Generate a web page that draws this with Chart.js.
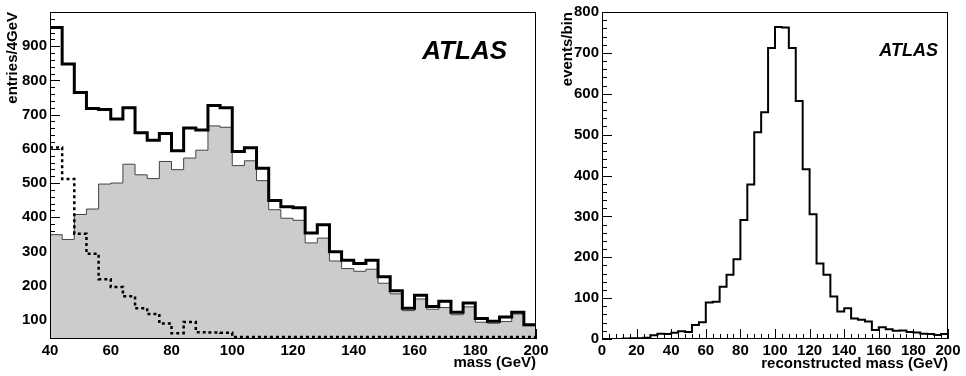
<!DOCTYPE html>
<html>
<head>
<meta charset="utf-8">
<script src="https://cdn.jsdelivr.net/npm/chart.js@4.4.1/dist/chart.umd.min.js"></script>
<style>
  body { margin: 0; background: #fff; }
  #wrap { position: relative; width: 966px; height: 376px; }
  canvas { position: absolute; top: 0; }
  #mass_chart { left: 0; }
  #reco_chart { left: 556px; }
</style>
</head>
<body>
<div id="wrap">
  <canvas id="mass_chart" width="560" height="376"></canvas>
  <canvas id="reco_chart" width="410" height="376"></canvas>
</div>
<script>
// left panel: mass spectrum, 4 GeV bins from 40 to 200 GeV
const massLow = 40, massBin = 4;
const totalEntries = [955, 848, 765, 718, 715, 687, 720, 647, 625, 645,
                      594, 661, 655, 727, 720, 592, 603, 543, 449, 431,
                      428, 354, 378, 299, 274, 265, 274, 226, 185, 134,
                      172, 139, 154, 122, 149, 104, 96, 108, 122, 86];
const signalEntries = [349, 335, 408, 424, 497, 500, 555, 524, 513, 563,
                       539, 573, 596, 667, 663, 551, 565, 507, 422, 397,
                       391, 325, 339, 272, 250, 242, 248, 207, 176, 127,
                       161, 131, 136, 115, 138, 93, 90, 95, 117, 83];
const bkgEntries = [604, 512, 352, 293, 219, 196, 169, 134, 117, 89,
                    61, 94, 64, 63, 62, 50, 50, 50, 50, 50,
                    50, 50, 50, 50, 50, 50, 50, 50, 50, 50,
                    50, 50, 50, 50, 50, 50, 50, 50, 50, 50];
const massTicks = [40, 60, 80, 100, 120, 140, 160, 180, 200];
const entryTicks = [100, 200, 300, 400, 500, 600, 700, 800, 900];

// right panel: reconstructed mass, 4 GeV bins from 0 to 200 GeV
const recoLow = 0, recoBin = 4;
const recoEvents = [0, 0, 0, 1, 2, 2, 3, 9, 13, 12,
                    15, 19, 17, 34, 41, 89, 91, 128, 157, 195,
                    291, 378, 506, 555, 712, 763, 762, 712, 582, 415,
                    305, 185, 157, 104, 67, 75, 50, 47, 43, 22,
                    29, 24, 20, 21, 17, 16, 13, 12, 10, 12];
const recoTicks = [0, 20, 40, 60, 80, 100, 120, 140, 160, 180, 200];
const eventTicks = [0, 100, 200, 300, 400, 500, 600, 700, 800];

Chart.defaults.font.family = '"Liberation Sans", Arial, sans-serif';
Chart.defaults.font.weight = 'bold';
Chart.defaults.font.size = 15;
Chart.defaults.color = '#000';

// step points: one per low bin edge, plus the upper edge of the last bin
function histPoints(low, width, values) {
    const pts = values.map((v, i) => ({ x: low + i * width, y: v }));
    pts.push({ x: low + values.length * width, y: values[values.length - 1] });
    return pts;
}

// inside tick marks (under the histograms), frame and the ATLAS label
const histFrame = {
    id: 'histFrame',
    beforeDatasetsDraw(chart, args, opts) {
        const { ctx, chartArea: a, scales: { x, y } } = chart;
        ctx.save();
        ctx.strokeStyle = '#000';
        ctx.lineWidth = 1;
        ctx.beginPath();
        for (let v = Math.ceil(y.min / opts.yMinor) * opts.yMinor; v <= y.max; v += opts.yMinor) {
            const len = v % opts.yMajor === 0 ? 10 : 5;
            const py = Math.round(y.getPixelForValue(v)) + 0.5;
            ctx.moveTo(a.left, py);
            ctx.lineTo(a.left + len, py);
        }
        for (let v = Math.ceil(x.min / opts.xMinor) * opts.xMinor; v <= x.max; v += opts.xMinor) {
            const len = v % opts.xMajor === 0 ? 10 : 5;
            const px = Math.round(x.getPixelForValue(v)) + 0.5;
            ctx.moveTo(px, a.bottom);
            ctx.lineTo(px, a.bottom - len);
        }
        ctx.stroke();
        ctx.restore();
    },
    afterDraw(chart, args, opts) {
        const { ctx, chartArea: a } = chart;
        ctx.save();
        ctx.strokeStyle = '#000';
        ctx.lineWidth = 1;
        ctx.strokeRect(Math.round(a.left) + 0.5, Math.round(a.top) + 0.5,
                       Math.round(a.width) - 1, Math.round(a.height) - 1);
        ctx.fillStyle = '#000';
        ctx.font = 'italic bold ' + opts.labelSize + 'px "Liberation Sans", Arial, sans-serif';
        ctx.textAlign = 'right';
        ctx.textBaseline = 'alphabetic';
        ctx.fillText('ATLAS', a.right - opts.labelRight, a.top + opts.labelTop);
        ctx.restore();
    }
};

function axis(min, max, ticks, size, title, titlePad) {
    return {
        type: 'linear',
        min: min,
        max: max,
        afterBuildTicks: s => { s.ticks = ticks.map(v => ({ value: v })); },
        afterFit: s => { if (s.isHorizontal()) s.height = size; else s.width = size; },
        grid: { display: false, drawTicks: false },
        border: { display: false },
        ticks: { padding: 3, maxRotation: 0, autoSkip: false },
        title: { display: true, text: title, align: 'end', padding: titlePad }
    };
}

new Chart(document.getElementById('mass_chart'), {
    type: 'line',
    data: {
        datasets: [{
            label: 'total',
            data: histPoints(massLow, massBin, totalEntries),
            borderColor: '#000',
            borderWidth: 3,
            stepped: 'before',
            pointRadius: 0,
            fill: false
        }, {
            label: 'background',
            data: histPoints(massLow, massBin, bkgEntries),
            borderColor: '#000',
            borderWidth: 2.5,
            borderDash: [3, 3],
            stepped: 'before',
            pointRadius: 0,
            fill: false
        }, {
            label: 'signal',
            data: histPoints(massLow, massBin, signalEntries),
            borderColor: '#444',
            borderWidth: 1,
            backgroundColor: '#cccccc',
            stepped: 'before',
            pointRadius: 0,
            fill: 'start'
        }]
    },
    options: {
        responsive: false,
        animation: false,
        layout: { padding: { top: 10, right: 24, left: 0, bottom: 0 } },
        scales: {
            x: axis(40, 200, massTicks, 37, 'mass (GeV)', { top: 0, bottom: 4 }),
            y: axis(44, 1000, entryTicks, 50, 'entries/4GeV', { top: 4, bottom: 0 })
        },
        plugins: {
            legend: { display: false },
            tooltip: { enabled: false },
            histFrame: { xMinor: 4, xMajor: 20, yMinor: 20, yMajor: 100,
                         labelSize: 26, labelRight: 29, labelTop: 47 }
        }
    },
    plugins: [histFrame]
});

new Chart(document.getElementById('reco_chart'), {
    type: 'line',
    data: {
        datasets: [{
            label: 'reconstructed',
            data: histPoints(recoLow, recoBin, recoEvents),
            borderColor: '#000',
            borderWidth: 2,
            stepped: 'before',
            pointRadius: 0,
            fill: false
        }]
    },
    options: {
        responsive: false,
        animation: false,
        layout: { padding: { top: 10, right: 18, left: 0, bottom: 0 } },
        scales: {
            x: axis(0, 200, recoTicks, 37, 'reconstructed mass (GeV)', { top: 0, bottom: 3 }),
            y: axis(0, 800, eventTicks, 46, 'events/bin', { top: 3, bottom: 0 })
        },
        plugins: {
            legend: { display: false },
            tooltip: { enabled: false },
            histFrame: { xMinor: 4, xMajor: 20, yMinor: 20, yMajor: 100,
                         labelSize: 18, labelRight: 10, labelTop: 44 }
        }
    },
    plugins: [histFrame]
});
</script>
</body>
</html>
